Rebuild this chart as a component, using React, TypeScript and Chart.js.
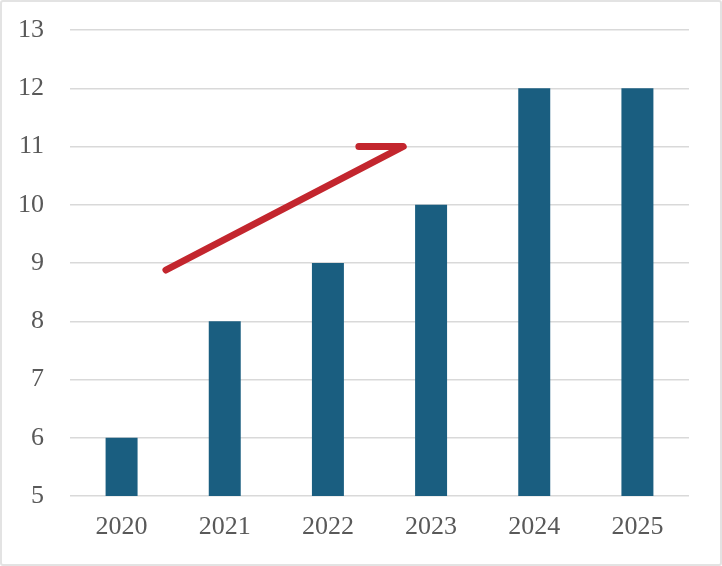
import React, { useEffect, useRef } from "react";
import { Chart, registerables } from "chart.js";

Chart.register(...registerables);

const years = ["2020", "2021", "2022", "2023", "2024", "2025"];
const values = [6, 8, 9, 10, 12, 12];
const yTicks = [5, 6, 7, 8, 9, 10, 11, 12, 13];
// arrow annotation points in data units (x = category index, y = value)
const arrowX = [0.43, 2.73, 2.3];
const arrowY = [8.88, 11.0, 11.0];

const arrowPlugin = {
  id: "trendArrow",
  afterDatasetsDraw(chart: any) {
    const xs = chart.scales.x;
    const ys = chart.scales.y;
    const ctx = chart.ctx;
    ctx.save();
    ctx.strokeStyle = "#c3262e";
    ctx.lineWidth = 7;
    ctx.lineCap = "round";
    ctx.lineJoin = "round";
    ctx.beginPath();
    arrowX.forEach((v, i) => {
      const px = xs.getPixelForValue(v);
      const py = ys.getPixelForValue(arrowY[i]);
      if (i === 0) ctx.moveTo(px, py);
      else ctx.lineTo(px, py);
    });
    ctx.stroke();
    ctx.restore();
  },
};

export default function App() {
  const ref = useRef<HTMLCanvasElement | null>(null);
  useEffect(() => {
    document.body.style.margin = "0";
    const font = { family: "'Liberation Serif', serif", size: 26 };
    const chart = new Chart(ref.current as HTMLCanvasElement, {
      type: "bar",
      data: {
        labels: years,
        datasets: [
          {
            data: values,
            backgroundColor: "#1a5e80",
            barPercentage: 0.31,
            categoryPercentage: 1,
          },
        ],
      },
      options: {
        animation: false,
        responsive: false,
        layout: { padding: { top: 30, right: 33, left: 0, bottom: 0 } },
        plugins: { legend: { display: false }, tooltip: { enabled: false } },
        scales: {
          x: {
            grid: { display: false, drawTicks: false },
            border: { display: false },
            ticks: { color: "#595959", font, padding: 16, maxRotation: 0 },
            afterFit(scale: any) {
              scale.height = 70;
              scale.paddingLeft = 0;
              scale.paddingRight = 0;
            },
          },
          y: {
            min: 5,
            max: 13,
            afterBuildTicks(scale: any) {
              scale.ticks = yTicks.map((v) => ({ value: v }));
            },
            grid: { color: "#d9d9d9", lineWidth: 1.5, drawTicks: false },
            border: { display: false },
            ticks: { color: "#595959", font, padding: 26 },
            afterFit(scale: any) {
              scale.width = 70;
              scale.paddingTop = 0;
              scale.paddingBottom = 0;
            },
          },
        },
      },
      plugins: [arrowPlugin],
    });
    return () => chart.destroy();
  }, []);
  return (
    <div style={{ position: "relative", width: 722, height: 566, background: "#fff" }}>
      <canvas ref={ref} width={722} height={566} style={{ position: "absolute", left: 0, top: 0 }} />
      <div
        style={{
          position: "absolute",
          left: 0,
          top: 0,
          width: 722,
          height: 566,
          boxSizing: "border-box",
          border: "2px solid #e3e3e3",
          borderRadius: 3,
          pointerEvents: "none",
        }}
      />
    </div>
  );
}
